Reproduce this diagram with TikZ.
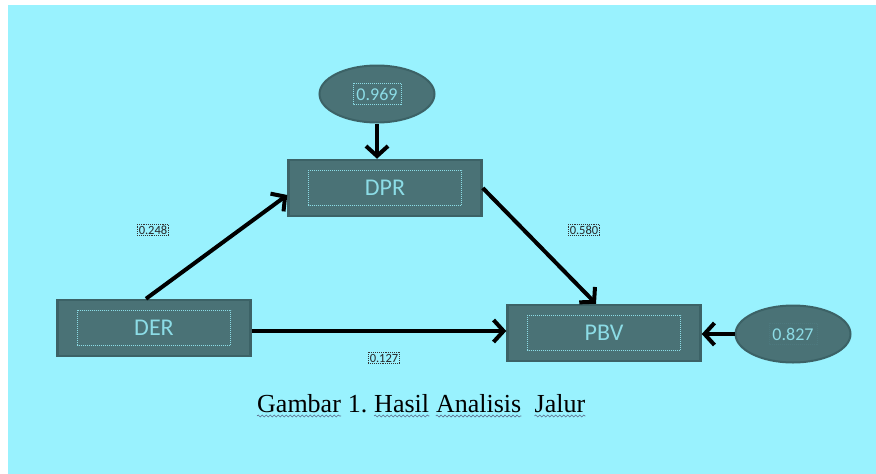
\documentclass[tikz,border=0pt]{standalone}
\usepackage{fontspec}
\setmainfont{Liberation Serif}
\newfontfamily\boxfont{Carlito}
\usetikzlibrary{arrows.meta,shapes.geometric,decorations.pathmorphing}
\definecolor{bgc}{HTML}{99F2FE}
\definecolor{boxfill}{HTML}{4A7276}
\definecolor{boxline}{HTML}{3C6266}
\definecolor{boxtext}{HTML}{8CDCE6}
\definecolor{wavec}{HTML}{5A6A8A}
\tikzset{
  varbox/.style={draw=boxline, line width=2.5pt, fill=boxfill, minimum width=193pt, minimum height=56pt,
    inner sep=0pt, text=boxtext, font=\boxfont\fontsize{24}{27}\selectfont,
    path picture={\draw[boxtext, densely dotted, line width=1pt]
      ([shift={(20pt,-10pt)}]path picture bounding box.north west) rectangle
      ([shift={(-20pt,11pt)}]path picture bounding box.south east);}},
  errell/.style={ellipse, draw=boxline, line width=2pt, fill=boxfill, minimum width=115pt, minimum height=57pt,
    inner sep=0pt, text=boxtext, font=\boxfont\fontsize{18}{21}\selectfont},
  coef/.style={draw=black!80, densely dotted, line width=0.9pt, inner sep=1.5pt,
    font=\boxfont\fontsize{12.5}{14}\selectfont, text=black!85},
  conn/.style={draw=black, line width=4pt, -{Straight Barb[length=10pt,width=22pt]}},
  word/.style={inner sep=0pt, anchor=base west, font=\fontsize{26}{30}\selectfont, text=black},
  wave/.style={draw=wavec, line width=0.6pt, decorate, decoration={snake, segment length=4pt, amplitude=1pt}},
}
\begin{document}
\begin{tikzpicture}[x=1pt,y=-1pt]
\useasboundingbox (0,0) rectangle (876,474);
\fill[white] (0,0) rectangle (876,474);
\fill[bgc] (8,5) rectangle (876,474);

\node[varbox] (dpr) at (385,188) {DPR};
\node[varbox] (der) at (154,328) {DER};
\node[varbox] (pbv) at (604,333) {PBV};
\node[errell] (e1) at (377,94) {0.969};
\node[errell] (e2) at (793,334) {0.827};
\draw[boxtext, densely dotted, line width=1pt] ([shift={(-24pt,11pt)}]e1.center) rectangle ([shift={(24pt,-10pt)}]e1.center);
\draw[boxtext!55!black, densely dotted, line width=1pt] ([shift={(-24pt,11pt)}]e2.center) rectangle ([shift={(24pt,-10pt)}]e2.center);

\draw[conn] (e1.south) -- (e1.south |- dpr.north);
\draw[conn] ([xshift=-8pt]der.north) -- ([yshift=-7pt]dpr.west);
\draw[conn] (dpr.east) -- ([xshift=-8pt]pbv.north);
\draw[conn] ([yshift=-3pt]der.east) -- ([yshift=-3pt]der.east -| pbv.west);
\draw[conn] (e2.west) -- (e2.west -| pbv.east);

\node[coef] (l1) at (153,230) {0.248};
\node[coef] (l2) at (584,230) {0.580};
\node[coef] (l3) at (384,358) {0.127};

\node[word] (w1) at (257,412) {Gambar};
\node[word] (w2) at ([xshift=6.5pt]w1.base east) {1.};
\node[word] (w3) at ([xshift=6.5pt]w2.base east) {Hasil};
\node[word] (w4) at ([xshift=6.5pt]w3.base east) {Analisis};
\node[word] (w5) at ([xshift=13pt]w4.base east) {Jalur};
\foreach \w in {w1,w3,w4,w5}
  \draw[wave] ([yshift=-4pt]\w.base west) -- ([yshift=-4pt]\w.base east);
\end{tikzpicture}
\end{document}
